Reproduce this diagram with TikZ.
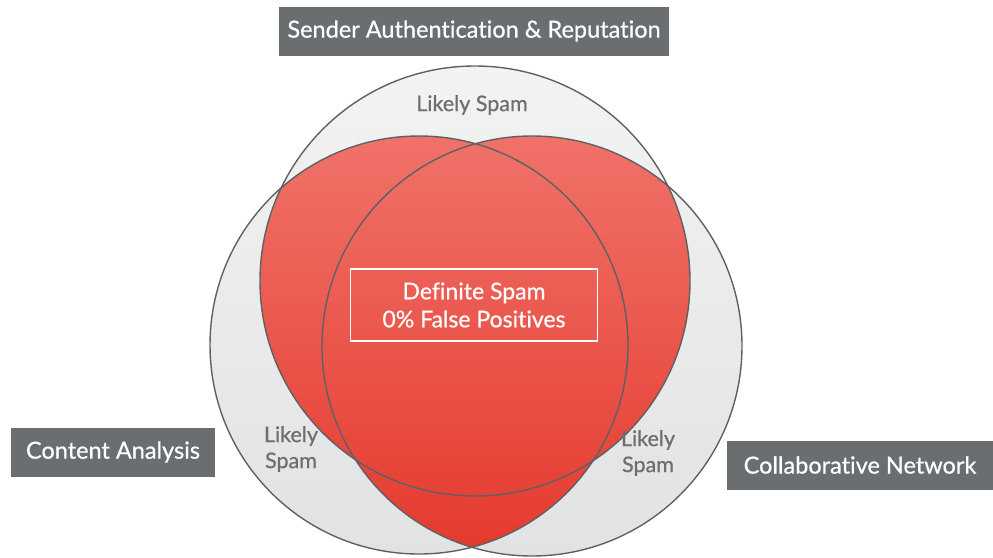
\documentclass[tikz,border=0pt]{standalone}
\usepackage{fontspec}
\setmainfont{Lato}[FakeBold=0.6, RawFeature={-liga;-clig;-calt;-dlig;-rlig}]
\usetikzlibrary{positioning}

\definecolor{tagGray}{HTML}{6B6E70}
\definecolor{ringLine}{HTML}{5E6164}
\definecolor{likelyGray}{HTML}{6D6E70}
\definecolor{spamTop}{HTML}{F27C74}
\definecolor{spamBot}{HTML}{E5392D}
\definecolor{fogTop}{HTML}{F3F3F3}
\definecolor{fogBot}{HTML}{E1E2E3}

\begin{document}
\begin{tikzpicture}[
        x=1pt, y=-1pt,
        tag/.style={fill=tagGray, text=white, font=\fontsize{23.5}{26}\selectfont,
                    inner sep=0pt, minimum height=49pt},
        likely/.style={text=likelyGray, font=\fontsize{21.5}{26}\selectfont, align=center},
        verdict/.style={draw=white, line width=1.5pt, text=white, align=center,
                        font=\fontsize{23}{28}\selectfont, minimum width=247pt, minimum height=72pt},
        ring/.style={draw=ringLine, line width=1.4pt}
    ]
    \useasboundingbox (0,0) rectangle (993,557);

    % centres of the three sets
    \coordinate (sender) at (475,281);
    \coordinate (content) at (419,345);
    \coordinate (network) at (532,346);

    % pale discs
    \begin{scope}
        \clip (sender) circle[radius=215pt] (content) circle[radius=209pt] (network) circle[radius=210pt];
        \shade[top color=fogTop, bottom color=fogBot] (190,60) rectangle (760,557);
    \end{scope}

    % red overlaps, one lens per pair
    \foreach \a/\ra/\b/\rb in {sender/215/content/209, sender/215/network/210, content/209/network/210} {
        \begin{scope}
            \clip (\a) circle[radius=\ra pt];
            \clip (\b) circle[radius=\rb pt];
            \shade[top color=spamTop, bottom color=spamBot] (190,60) rectangle (760,557);
        \end{scope}
    }

    \draw[ring] (sender) circle[radius=215pt];
    \draw[ring] (content) circle[radius=209pt];
    \draw[ring] (network) circle[radius=210pt];

    \node[verdict] (definite) at (474,305) {Definite Spam\\0\% False Positives};

    \node[likely] (likelyTop) at (472,105) {Likely Spam};
    \node[likely] (likelyLeft) at (291,449) {Likely\\Spam};
    \node[likely] (likelyRight) at (648,453) {Likely\\Spam};

    \node[tag, minimum width=390pt] (senderTag) at (474,31) {Sender Authentication \& Reputation};
    \node[tag, minimum width=204pt] (contentTag) at (113,452) {Content Analysis};
    \node[tag, minimum width=266pt] (networkTag) at (860,465) {Collaborative Network};

\end{tikzpicture}
\end{document}
